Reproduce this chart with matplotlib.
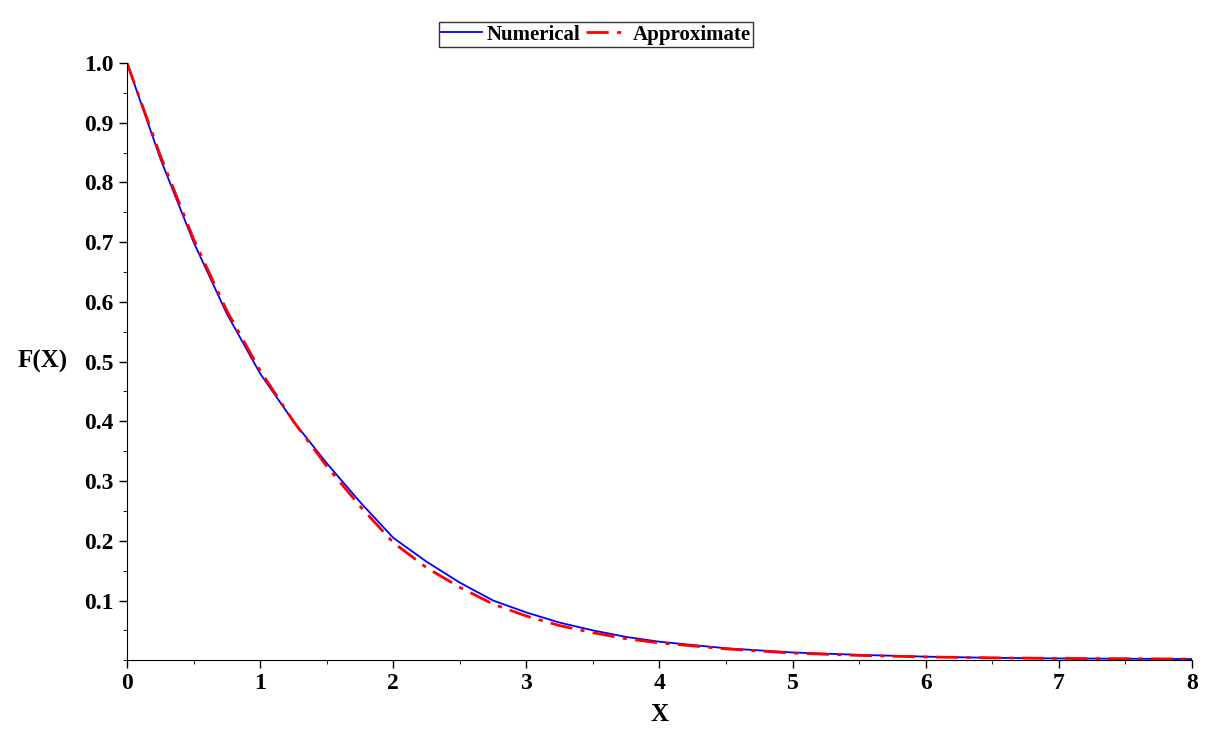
import numpy as np
import matplotlib.pyplot as plt
from matplotlib.ticker import MultipleLocator

x = [0, 0.25, 0.5, 0.75, 1, 1.25, 1.5, 1.75, 2, 2.25, 2.5, 2.75, 3, 3.25, 3.5,
     3.75, 4, 4.5, 5, 5.5, 6, 6.5, 7, 7.5, 8]
numerical = [1.0, 0.84, 0.70, 0.58, 0.48, 0.40, 0.33, 0.265, 0.205, 0.165, 0.13,
             0.10, 0.08, 0.063, 0.05, 0.039, 0.031, 0.02, 0.013, 0.009, 0.006,
             0.004, 0.003, 0.0025, 0.002]
approximate = [1.0, 0.845, 0.705, 0.585, 0.485, 0.40, 0.325, 0.258, 0.197, 0.155,
               0.122, 0.094, 0.074, 0.058, 0.046, 0.036, 0.029, 0.019, 0.012,
               0.008, 0.0055, 0.004, 0.003, 0.0025, 0.002]

plt.rcParams['font.family'] = ['Liberation Serif', 'DejaVu Serif']
plt.rcParams['font.weight'] = 'bold'

fig = plt.figure(figsize=(12.1, 7.41), dpi=100)
ax = fig.add_axes([0.105, 0.109, 0.88, 0.806])

ax.plot(x, numerical, color='blue', lw=1.3, label='Numerical')
ax.plot(x, approximate, color='red', lw=2, ls=(0, (8, 3, 1.5, 3)), label='Approximate')

ax.set_xlim(0, 8)
ax.set_ylim(0, 1)
ax.spines['top'].set_visible(False)
ax.spines['right'].set_visible(False)
ax.set_xticks(range(9))
ax.set_yticks([0.1, 0.2, 0.3, 0.4, 0.5, 0.6, 0.7, 0.8, 0.9, 1.0])
ax.set_yticklabels(['0.1', '0.2', '0.3', '0.4', '0.5', '0.6', '0.7', '0.8', '0.9', '1.0'])
ax.xaxis.set_minor_locator(MultipleLocator(0.5))
ax.yaxis.set_minor_locator(MultipleLocator(0.05))
ax.tick_params(labelsize=17, length=6, width=1)
ax.tick_params(which='minor', length=3)
for lab in ax.get_xticklabels() + ax.get_yticklabels():
    lab.set_fontweight('bold')

ax.set_xlabel('X', fontsize=18, fontweight='bold', labelpad=6)
ax.set_ylabel('F(X)', fontsize=18, fontweight='bold', rotation=0, labelpad=30, va='center')

ax.legend(loc='lower center', bbox_to_anchor=(0.44, 1.01), ncol=2,
          frameon=True, fancybox=False, edgecolor='black', handlelength=2.0,
          columnspacing=0.3, handletextpad=0.2, borderpad=0.1,
          prop={'weight': 'bold', 'size': 15})

fig.savefig('out.png', dpi=100)
